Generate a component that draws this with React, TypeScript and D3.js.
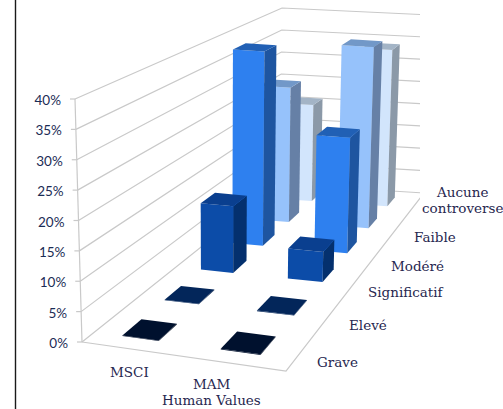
import React from "react";
import * as d3 from "d3";

const series = ["MSCI", "MAM"];
const rows = ["Grave", "Elevé", "Significatif", "Modéré", "Faible", "Aucune"];
const msci = [0.1, 0.1, 12.5, 38.5, 28, 21];
const mam = [0.1, 0.1, 5.6, 22.7, 37.5, 34];
const ticks = [0, 5, 10, 15, 20, 25, 30, 35, 40];
const frontColors = ["#00112e", "#03265a", "#0c4ca8", "#2e80ef", "#96c2fb", "#d2e5fc"];
const sideColors = ["#000a1c", "#021a40", "#04306e", "#1e55a0", "#6680a6", "#8b99a8"];
const topColors = ["#00112e", "#03265a", "#0a3f8f", "#2160b5", "#7298c8", "#a3b4c6"];

type P = [number, number];
function quad(p00: P, p10: P, p11: P, p01: P) {
  const [x0, y0] = p00, [x1, y1] = p10, [x2, y2] = p11, [x3, y3] = p01;
  const dx1 = x1 - x2, dx2 = x3 - x2, sx = x0 - x1 + x2 - x3;
  const dy1 = y1 - y2, dy2 = y3 - y2, sy = y0 - y1 + y2 - y3;
  const den = dx1 * dy2 - dx2 * dy1;
  const g = (sx * dy2 - dx2 * sy) / den, h = (dx1 * sy - sx * dy1) / den;
  const a = x1 - x0 + g * x1, b = x3 - x0 + h * x3, c = x0;
  const d = y1 - y0 + g * y1, e = y3 - y0 + h * y3, f = y0;
  return (u: number, v: number): P => {
    const w = g * u + h * v + 1;
    return [(a * u + b * v + c) / w, (d * u + e * v + f) / w];
  };
}
const floor = quad([82, 342], [286, 371], [424, 193], [280, 184]);
const ceil = quad([75, 99], [289, 121], [431, 15], [282, 8]);
const tScale = d3.scaleLinear().domain([0, 40]).range([0, 1]);
const uScale = d3.scaleBand().domain(series).range([0, 1]);
const vScale = d3.scaleBand().domain(rows).range([0, 1]);
const project = (u: number, v: number, val: number): P => {
  const a = floor(u, v), b = ceil(u, v), t = tScale(val);
  return [a[0] + (b[0] - a[0]) * t, a[1] + (b[1] - a[1]) * t];
};
const line = d3.line<P>().curve(d3.curveLinearClosed);
const open = d3.line<P>();

const hu = 0.095, hv = 0.036, du = -0.004, dv = -0.005;
const labelFont = "'DejaVu Serif', serif";
const tickFont = "Lato, sans-serif";

const rowLabels: { t: string; x: number; y: number }[] = [
  { t: "Grave", x: 317, y: 367 },
  { t: "Elevé", x: 349, y: 330 },
  { t: "Significatif", x: 368, y: 297 },
  { t: "Modéré", x: 391, y: 271 },
  { t: "Faible", x: 414, y: 242 },
  { t: "Aucune", x: 437, y: 197 },
  { t: "controverse", x: 422, y: 213 },
  { t: "MSCI", x: 110, y: 377 },
  { t: "MAM", x: 193, y: 389 },
  { t: "Human Values", x: 162, y: 405 },
];

export default function App() {
  const bars: React.ReactNode[] = [];
  for (let r = rows.length - 1; r >= 0; r--) {
    series.forEach((s, c) => {
      const val = (c === 0 ? msci : mam)[r];
      const uc = uScale(s)! + uScale.bandwidth() / 2 + du;
      const vc = vScale(rows[r])! + vScale.bandwidth() / 2 + dv;
      const [u0, u1, v0, v1] = [uc - hu, uc + hu, vc - hv, vc + hv];
      const front = [project(u0, v0, 0), project(u1, v0, 0), project(u1, v0, val), project(u0, v0, val)];
      const side = [project(u1, v0, 0), project(u1, v1, 0), project(u1, v1, val), project(u1, v0, val)];
      const top = [project(u0, v0, val), project(u1, v0, val), project(u1, v1, val), project(u0, v1, val)];
      bars.push(
        <g key={`${r}-${c}`}>
          <path d={line(front)!} fill={frontColors[r]} />
          <path d={line(side)!} fill={sideColors[r]} />
          <path d={line(top)!} fill={topColors[r]} />
        </g>
      );
    });
  }
  return (
    <svg width={503} height={409} style={{ position: "absolute", left: 0, top: 0 }}>
      <rect width={503} height={409} fill="#fff" />
      <line x1={15.5} y1={0} x2={15.5} y2={409} stroke="#1a1a1a" strokeWidth={1.4} />
      <defs>
        <clipPath id="wall"><rect x={0} y={0} width={420} height={409} /></clipPath>
      </defs>
      <g fill="none" stroke="#c9c9c9" strokeWidth={1.2} clipPath="url(#wall)">
        {ticks.map((t) => (
          <path key={t} d={open([project(0, 0, t), project(0, 1, t), project(1, 1, t)])!} />
        ))}
        <path d={open([project(0, 0, 0), project(0, 0, 40)])!} />
        <path d={open([project(0, 0, 0), project(1, 0, 0), project(1, 1, 0)])!} />
        {ticks.map((t) => {
          const p = project(0, 0, t);
          return <line key={t} x1={p[0] - 5} x2={p[0]} y1={p[1]} y2={p[1]} />;
        })}
      </g>
      {bars}
      <g fontFamily={tickFont} fontSize={13.5} fill="#1b2c55" textAnchor="end">
        {ticks.map((t) => {
          const p = project(0, 0, t);
          return <text key={t} x={p[0] - 14} y={p[1] + 6}>{t}%</text>;
        })}
      </g>
      <g fontFamily={labelFont} fontSize={13.5} fill="#27274f">
        {rowLabels.map((l) => (
          <text key={l.t} x={l.x} y={l.y}>{l.t}</text>
        ))}
      </g>
    </svg>
  );
}
